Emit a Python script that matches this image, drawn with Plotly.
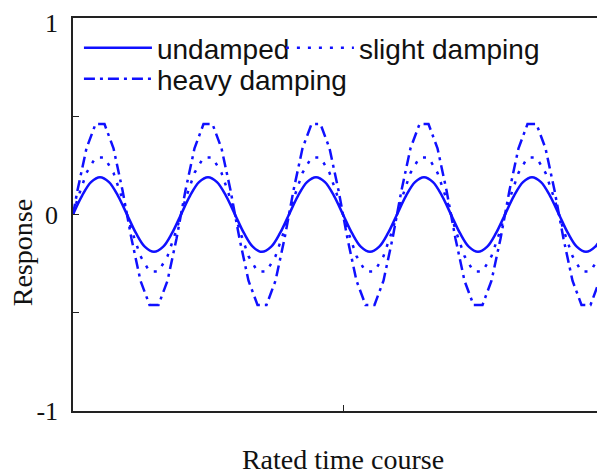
import plotly.graph_objects as go

# time axis (period = 12 units); undamped sampled on integer steps
time_fine = [0, 1, 2, 3, 4, 5, 6, 7, 8, 9, 10, 11,
             12, 13, 14, 15, 16, 17, 18, 19, 20, 21, 22, 23,
             24, 25, 26, 27, 28, 29, 30, 31, 32, 33, 34, 35,
             36, 37, 38, 39, 40, 41, 42, 43, 44, 45, 46, 47,
             48, 49, 50, 51, 52, 53, 54, 55, 56, 57, 58, 59, 60]
undamped = [0, 0.095, 0.165, 0.19, 0.165, 0.095, 0, -0.095, -0.165, -0.19, -0.165, -0.095,
            0, 0.095, 0.165, 0.19, 0.165, 0.095, 0, -0.095, -0.165, -0.19, -0.165, -0.095,
            0, 0.095, 0.165, 0.19, 0.165, 0.095, 0, -0.095, -0.165, -0.19, -0.165, -0.095,
            0, 0.095, 0.165, 0.19, 0.165, 0.095, 0, -0.095, -0.165, -0.19, -0.165, -0.095,
            0, 0.095, 0.165, 0.19, 0.165, 0.095, 0, -0.095, -0.165, -0.19, -0.165, -0.095, 0]

# damped responses sampled on half steps
time_coarse = [0, 0.5, 1.5, 2.5, 3.5, 4.5, 5.5, 6.5, 7.5, 8.5, 9.5, 10.5, 11.5,
               12.5, 13.5, 14.5, 15.5, 16.5, 17.5, 18.5, 19.5, 20.5, 21.5, 22.5, 23.5,
               24.5, 25.5, 26.5, 27.5, 28.5, 29.5, 30.5, 31.5, 32.5, 33.5, 34.5, 35.5,
               36.5, 37.5, 38.5, 39.5, 40.5, 41.5, 42.5, 43.5, 44.5, 45.5, 46.5, 47.5,
               48.5, 49.5, 50.5, 51.5, 52.5, 53.5, 54.5, 55.5, 56.5, 57.5, 58.5, 59.5]
slight = [0,
          0.078, 0.212, 0.29, 0.29, 0.212, 0.078, -0.078, -0.212, -0.29, -0.29, -0.212, -0.078,
          0.078, 0.212, 0.29, 0.29, 0.212, 0.078, -0.078, -0.212, -0.29, -0.29, -0.212, -0.078,
          0.078, 0.212, 0.29, 0.29, 0.212, 0.078, -0.078, -0.212, -0.29, -0.29, -0.212, -0.078,
          0.078, 0.212, 0.29, 0.29, 0.212, 0.078, -0.078, -0.212, -0.29, -0.29, -0.212, -0.078,
          0.078, 0.212, 0.29, 0.29, 0.212, 0.078, -0.078, -0.212, -0.29, -0.29, -0.212, -0.078]
heavy = [0,
         0.123, 0.337, 0.46, 0.46, 0.337, 0.123, -0.123, -0.337, -0.46, -0.46, -0.337, -0.123,
         0.123, 0.337, 0.46, 0.46, 0.337, 0.123, -0.123, -0.337, -0.46, -0.46, -0.337, -0.123,
         0.123, 0.337, 0.46, 0.46, 0.337, 0.123, -0.123, -0.337, -0.46, -0.46, -0.337, -0.123,
         0.123, 0.337, 0.46, 0.46, 0.337, 0.123, -0.123, -0.337, -0.46, -0.46, -0.337, -0.123,
         0.123, 0.337, 0.46, 0.46, 0.337, 0.123, -0.123, -0.337, -0.46, -0.46, -0.337, -0.123]

y_ticks = [-1, -0.5, 0, 0.5, 1]
y_tick_labels = ["-1", "", "0", "", ""]
top_tick_label = "1"
x_ticks = [30]
x_tick_labels = [""]

BLUE = "#1010ff"
SERIF = "Liberation Serif, Times New Roman, serif"
SANS = "Liberation Sans, Arial, sans-serif"

fig = go.Figure()
fig.add_trace(go.Scatter(x=time_fine, y=undamped, mode="lines", name="undamped",
                         legend="legend",
                         line=dict(color=BLUE, width=2.5, shape="spline")))
fig.add_trace(go.Scatter(x=time_coarse, y=slight, mode="lines", name="slight damping",
                         legend="legend3",
                         line=dict(color=BLUE, width=2.5, dash="3px,8px")))
fig.add_trace(go.Scatter(x=time_coarse, y=heavy, mode="lines", name="heavy damping",
                         legend="legend2",
                         line=dict(color=BLUE, width=2.5, dash="11px,5px,3px,5px")))

legend_common = dict(xanchor="left", yanchor="top", orientation="h",
                     font=dict(family=SANS, size=28, color="#111"),
                     bgcolor="rgba(0,0,0,0)", itemwidth=68)

fig.update_layout(
    width=605, height=475,
    margin=dict(l=65, r=0, t=10, b=72),
    paper_bgcolor="white", plot_bgcolor="white",
    showlegend=True,
    legend=dict(x=0.011, y=0.987, **legend_common),
    legend3=dict(x=0.385, y=0.987, **legend_common),
    legend2=dict(x=0.011, y=0.908, **legend_common),
    xaxis=dict(range=[0, 60], showline=True, linecolor="#222", linewidth=1.5,
               mirror=True, ticks="inside", ticklen=6, tickcolor="#222",
               tickvals=x_ticks, ticktext=x_tick_labels,
               showgrid=False, zeroline=False, automargin=False,
               title=dict(text="Rated time course", standoff=35,
                          font=dict(family=SERIF, size=28, color="#111"))),
    yaxis=dict(range=[-1, 1], showline=True, linecolor="#222", linewidth=1.5,
               ticks="inside", ticklen=6, tickcolor="#222",
               tickvals=y_ticks, ticktext=y_tick_labels,
               tickfont=dict(family=SERIF, size=26, color="#111"),
               ticklabelstandoff=8,
               showgrid=False, zeroline=False, automargin=False),
    annotations=[
        dict(text="Response", textangle=-90, xref="paper", yref="paper",
             x=-0.094, y=0.402, xanchor="center", yanchor="middle",
             showarrow=False, font=dict(family=SERIF, size=28, color="#111")),
        dict(text=top_tick_label, xref="paper", yref="paper",
             x=-0.026, y=1.0254, xanchor="right", yanchor="top",
             showarrow=False, borderpad=0,
             font=dict(family=SERIF, size=26, color="#111")),
    ],
)

fig.write_html("out.html")
